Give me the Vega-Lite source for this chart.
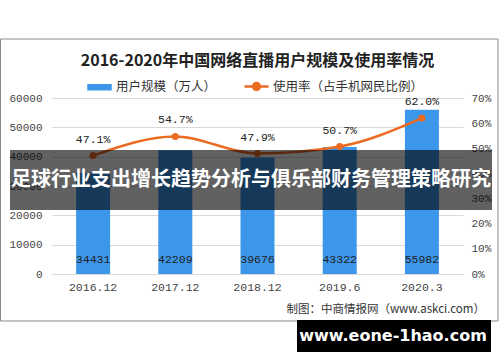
{
  "$schema": "https://vega.github.io/schema/vega-lite/v6.json",
  "width": 411,
  "height": 176,
  "autosize": {"type": "none"},
  "padding": {"left": 52, "top": 98, "right": 37, "bottom": 88},
  "background": "white",
  "config": {"view": {"stroke": null}, "font": "Noto Sans CJK SC", "axis": {"labelOverlap": false, "labelBound": false, "labelFlush": false}},
  "title": {
    "text": "2016-2020年中国网络直播用户规模及使用率情况",
    "font": "Noto Sans CJK SC",
    "fontSize": 16,
    "fontWeight": "bold",
    "color": "#222222",
    "anchor": "middle",
    "offset": -30
  },
  "data": {
    "values": [
      {"period": "2016.12", "users": 34431, "rate": 0.471},
      {"period": "2017.12", "users": 42209, "rate": 0.547},
      {"period": "2018.12", "users": 39676, "rate": 0.479},
      {"period": "2019.6", "users": 43322, "rate": 0.507},
      {"period": "2020.3", "users": 55982, "rate": 0.620}
    ]
  },
  "layer": [
    {
      "encoding": {
        "x": {
          "field": "period",
          "type": "nominal",
          "sort": null,
          "scale": {"paddingInner": 0.1, "paddingOuter": 0.05},
          "axis": {
            "title": null,
            "labelAngle": 0,
            "domain": false,
            "ticks": false,
            "labelPadding": 7,
            "labelFont": "Liberation Mono",
            "labelFontSize": 11.5,
            "labelColor": "#444444"
          }
        }
      },
      "layer": [
        {
          "encoding": {
            "y": {
              "field": "users",
              "type": "quantitative",
              "scale": {"domain": [0, 60000], "nice": false},
              "axis": {
                "orient": "left",
                "title": null,
                "values": [0, 10000, 20000, 30000, 40000, 50000, 60000],
                "format": "d",
                "labelOverlap": false,
                "domain": false,
                "ticks": false,
                "labelPadding": 10,
                "labelFont": "Liberation Mono",
                "labelFontSize": 11,
                "labelColor": "#444444",
                "grid": true,
                "gridColor": "#D9D9D9",
                "gridWidth": 1
              }
            }
          },
          "layer": [
            {
              "mark": {"type": "bar", "size": 34},
              "encoding": {
                "color": {
                  "datum": "用户规模（万人）",
                  "type": "nominal",
                  "scale": {
                    "domain": ["用户规模（万人）", "使用率（占手机网民比例）"],
                    "range": ["#3C97EA", "#EC6B23"]
                  },
                  "legend": {
                    "orient": "none",
                    "legendX": 36,
                    "legendY": -23,
                    "direction": "horizontal",
                    "title": null,
                    "labelFont": "Noto Sans CJK SC",
                    "labelFontSize": 12.5,
                    "labelColor": "#333333",
                    "symbolSize": 400,
                    "labelOffset": 5,
                    "columnPadding": 22,
                    "encode": {
                      "symbols": {
                        "update": {
                          "shape": {"signal": "datum.value === '用户规模（万人）' ? 'M-1.1,-0.2H1.1V0.2H-1.1Z' : 'M-1.2,0H1.2M0.35,0A0.35,0.35,0,1,1,-0.35,0A0.35,0.35,0,1,1,0.35,0'"},
                          "fill": {"signal": "datum.value === '用户规模（万人）' ? '#3C97EA' : '#EC6B23'"},
                          "stroke": {"signal": "datum.value === '用户规模（万人）' ? '#3C97EA' : '#EC6B23'"},
                          "strokeWidth": {"value": 2.5},
                          "opacity": {"value": 1},
                          "fillOpacity": {"value": 1}
                        }
                      }
                    }
                  }
                }
              }
            },
            {
              "mark": {"type": "text", "font": "Liberation Mono", "fontSize": 11.5, "color": "#222222", "baseline": "middle", "dy": -14},
              "encoding": {
                "y": {"datum": 0, "type": "quantitative"},
                "text": {"field": "users", "type": "quantitative", "format": "d"}
              }
            }
          ]
        },
        {
          "encoding": {
            "y": {
              "field": "rate",
              "type": "quantitative",
              "scale": {"domain": [0, 0.7], "nice": false},
              "axis": {
                "orient": "right",
                "title": null,
                "values": [0, 0.1, 0.2, 0.3, 0.4, 0.5, 0.6, 0.7],
                "format": ".0%",
                "labelOverlap": false,
                "domain": false,
                "ticks": false,
                "grid": false,
                "labelPadding": 8,
                "labelFont": "Liberation Mono",
                "labelFontSize": 11,
                "labelColor": "#444444"
              }
            }
          },
          "layer": [
            {
              "mark": {"type": "line", "interpolate": "monotone", "strokeWidth": 2.5},
              "encoding": {
                "color": {"datum": "使用率（占手机网民比例）", "type": "nominal"}
              }
            },
            {
              "mark": {"type": "circle", "size": 50, "opacity": 1},
              "encoding": {
                "color": {"datum": "使用率（占手机网民比例）", "type": "nominal"}
              }
            },
            {
              "mark": {"type": "text", "font": "Liberation Mono", "fontSize": 11.5, "color": "#222222", "baseline": "middle", "dy": -16},
              "encoding": {
                "text": {"field": "rate", "type": "quantitative", "format": ".1%"}
              }
            }
          ]
        }
      ],
      "resolve": {"scale": {"y": "independent"}}
    },
    {
      "data": {"values": [{}]},
      "layer": [
        {
          "mark": {"type": "rect", "filled": false, "stroke": "#8A8A8A", "strokeWidth": 1},
          "encoding": {
            "x": {"datum": -0.1253, "type": "quantitative", "scale": {"domain": [0, 1], "nice": false, "zero": false}, "axis": null},
            "x2": {"datum": 1.0852},
            "y": {"datum": 1.3352, "type": "quantitative", "scale": {"domain": [0, 1], "nice": false, "zero": false}, "axis": null},
            "y2": {"datum": -0.267}
          }
        },
        {
          "mark": {"type": "rect", "color": "#000000", "opacity": 0.62},
          "encoding": {
            "x": {"datum": -0.1022, "type": "quantitative"},
            "x2": {"datum": 1.0706},
            "y": {"datum": 0.7045, "type": "quantitative"},
            "y2": {"datum": 0.3636}
          }
        },
        {
          "mark": {"type": "text", "font": "Noto Sans CJK SC", "fontSize": 20, "fontWeight": "bold", "color": "#FFFFFF", "align": "center", "baseline": "middle"},
          "encoding": {
            "x": {"datum": 0.4842, "type": "quantitative"},
            "y": {"datum": 0.534, "type": "quantitative"},
            "text": {"value": "足球行业支出增长趋势分析与俱乐部财务管理策略研究"}
          }
        },
        {
          "mark": {"type": "text", "font": "Noto Sans CJK SC", "fontSize": 11.5, "color": "#333333", "align": "right", "baseline": "middle"},
          "encoding": {
            "x": {"datum": 1.0535, "type": "quantitative"},
            "y": {"datum": -0.2045, "type": "quantitative"},
            "text": {"value": "制图：中商情报网（www.askci.com）"}
          }
        },
        {
          "mark": {"type": "rect", "color": "#000000", "opacity": 1},
          "encoding": {
            "x": {"datum": 0.5961, "type": "quantitative"},
            "x2": {"datum": 1.0681},
            "y": {"datum": -0.2614, "type": "quantitative"},
            "y2": {"datum": -0.4432}
          }
        },
        {
          "mark": {"type": "text", "font": "DejaVu Sans", "fontSize": 16, "fontWeight": "bold", "color": "#FFFFFF", "align": "center", "baseline": "middle"},
          "encoding": {
            "x": {"datum": 0.8297, "type": "quantitative"},
            "y": {"datum": -0.3523, "type": "quantitative"},
            "text": {"value": "www.eone-1hao.com"}
          }
        }
      ]
    }
  ],
  "resolve": {"scale": {"x": "independent", "y": "independent"}}
}
